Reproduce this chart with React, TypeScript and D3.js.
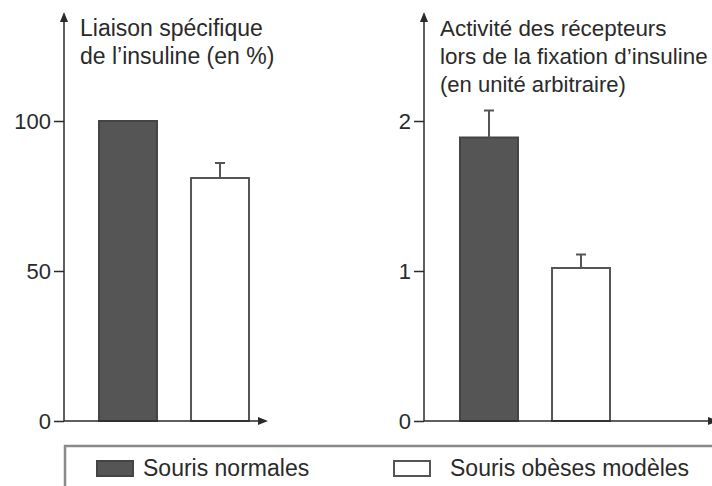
import React, { useEffect, useRef } from 'react';
import * as d3 from 'd3';

// data
const groups = ['Souris normales', 'Souris obèses modèles'];
const bindingValues = [100, 81];
const bindingErrors = [0, 5];
const activityValues = [1.89, 1.02];
const activityErrors = [0.18, 0.09];
const bindingTicks = [0, 50, 100];
const activityTicks = [0, 1, 2];
const bindingTitle = ['Liaison spécifique', 'de l’insuline (en %)'];
const activityTitle = ['Activité des récepteurs', 'lors de la fixation d’insuline'];
const activitySub = '(en unité arbitraire)';

const W = 712;
const H = 486;
const FONT = 'Liberation Sans, Arial, sans-serif';
const INK = '#2a2a2a';
const DARK = '#555555';

const App: React.FC = () => {
    const svgRef = useRef<SVGSVGElement>(null);

    useEffect(() => {
        if (!svgRef.current) return;
        const svg = d3.select(svgRef.current);
        svg.selectAll('*').remove();

        const defs = svg.append('defs');
        defs.append('marker')
            .attr('id', 'arrow')
            .attr('viewBox', '0 0 10 10')
            .attr('refX', 8).attr('refY', 5)
            .attr('markerWidth', 10).attr('markerHeight', 10)
            .attr('markerUnits', 'userSpaceOnUse')
            .attr('orient', 'auto')
            .append('path')
            .attr('d', 'M0,1 L10,5 L0,9 Z')
            .attr('fill', INK);

        const y0 = 421;
        const yTop = 121;

        const drawPanel = (
            axisX: number,
            xEnd: number,
            barRange: [number, number],
            domainMax: number,
            ticks: number[],
            values: number[],
            errors: number[],
            title: string[],
            titleSize: number,
            sub?: string
        ) => {
            const y = d3.scaleLinear().domain([0, domainMax]).range([y0, yTop]);
            const x = d3.scaleBand<string>()
                .domain(groups)
                .range(barRange)
                .paddingInner(0.37)
                .paddingOuter(0);

            const g = svg.append('g');

            // bars
            g.selectAll('rect.bar')
                .data(groups)
                .enter()
                .append('rect')
                .attr('class', 'bar')
                .attr('x', d => x(d)!)
                .attr('width', x.bandwidth())
                .attr('y', (d, i) => y(values[i]))
                .attr('height', (d, i) => y0 - y(values[i]))
                .attr('fill', (d, i) => (i === 0 ? DARK : '#ffffff'))
                .attr('stroke', (d, i) => (i === 0 ? '#444' : '#555'))
                .attr('stroke-width', 2);

            // error bars
            groups.forEach((d, i) => {
                if (!errors[i]) return;
                const cx = x(d)! + x.bandwidth() / 2;
                const top = y(values[i] + errors[i]);
                g.append('line')
                    .attr('x1', cx).attr('x2', cx)
                    .attr('y1', y(values[i])).attr('y2', top)
                    .attr('stroke', '#555').attr('stroke-width', 2);
                g.append('line')
                    .attr('x1', cx - 5).attr('x2', cx + 5)
                    .attr('y1', top).attr('y2', top)
                    .attr('stroke', '#555').attr('stroke-width', 2);
            });

            // y axis ticks
            const axis = g.append('g')
                .attr('transform', `translate(${axisX},0)`)
                .call(d3.axisLeft(y).tickValues(ticks).tickSize(10).tickPadding(3).tickFormat(d3.format('d')));
            axis.select('.domain').remove();
            axis.selectAll('.tick line').attr('stroke', INK).attr('stroke-width', 1.5);
            axis.selectAll('.tick text')
                .attr('fill', INK)
                .style('font-family', FONT)
                .style('font-size', '22px');

            // axis lines with arrows
            g.append('line')
                .attr('x1', axisX).attr('x2', axisX)
                .attr('y1', y0).attr('y2', 14)
                .attr('stroke', INK).attr('stroke-width', 1.5)
                .attr('marker-end', 'url(#arrow)');
            g.append('line')
                .attr('x1', axisX).attr('x2', xEnd)
                .attr('y1', y0).attr('y2', y0)
                .attr('stroke', INK).attr('stroke-width', 1.5)
                .attr('marker-end', 'url(#arrow)');

            // title
            title.forEach((t, i) => {
                g.append('text')
                    .attr('x', axisX + 16)
                    .attr('y', 36 + i * 28)
                    .attr('fill', INK)
                    .style('font-family', FONT)
                    .style('font-size', `${titleSize}px`)
                    .text(t);
            });
            if (sub) {
                g.append('text')
                    .attr('x', axisX + 16)
                    .attr('y', 92)
                    .attr('fill', INK)
                    .style('font-family', FONT)
                    .style('font-size', '22px')
                    .text(sub);
            }
        };

        drawPanel(64, 266, [99, 249], 100, bindingTicks, bindingValues, bindingErrors, bindingTitle, 23);
        drawPanel(424, 716, [460, 610], 2, activityTicks, activityValues, activityErrors, activityTitle, 22.4, activitySub);

        // legend
        const leg = svg.append('g');
        leg.append('rect')
            .attr('x', 65).attr('y', 446)
            .attr('width', 700).attr('height', 100)
            .attr('fill', 'none')
            .attr('stroke', '#8a8a8a')
            .attr('stroke-width', 2.5);
        const legX = [97, 394];
        const legTextX = [143, 450];
        groups.forEach((gname, i) => {
            leg.append('rect')
                .attr('x', legX[i]).attr('y', 461)
                .attr('width', 36).attr('height', 15)
                .attr('fill', i === 0 ? DARK : '#fff')
                .attr('stroke', i === 0 ? '#444' : '#555')
                .attr('stroke-width', 2);
            leg.append('text')
                .attr('x', legTextX[i]).attr('y', 476)
                .attr('fill', INK)
                .style('font-family', FONT)
                .style('font-size', '23px')
                .text(gname);
        });
    }, []);

    return (
        <svg
            ref={svgRef}
            width={W}
            height={H}
            style={{ position: 'absolute', left: 0, top: 0, background: '#fff' }}
        />
    );
};

export default App;
